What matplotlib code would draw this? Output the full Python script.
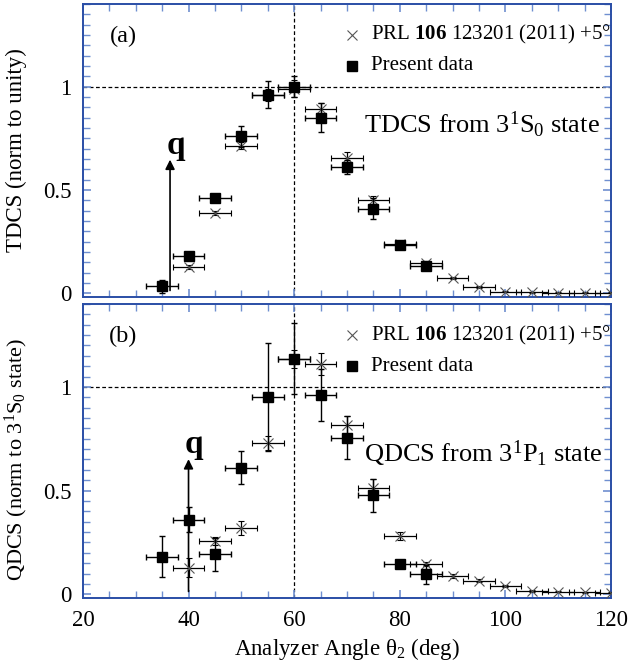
import matplotlib
matplotlib.use("Agg")
import matplotlib.pyplot as plt
from matplotlib.ticker import MultipleLocator, FixedLocator

plt.rcParams["font.family"] = ["Liberation Serif", "DejaVu Serif"]
plt.rcParams["mathtext.fontset"] = "custom"
plt.rcParams["mathtext.rm"] = "Liberation Serif"
plt.rcParams["mathtext.it"] = "Liberation Serif:italic"
plt.rcParams["mathtext.bf"] = "Liberation Serif:bold"

# Panel (a): TDCS from 3^1S_0, present data
tdcs_x = [35, 40, 45, 50, 55, 60, 65, 70, 75, 80, 85]
tdcs_y = [0.033, 0.18, 0.46, 0.76, 0.96, 1.00, 0.85, 0.61, 0.41, 0.234, 0.13]
tdcs_err = [0.03, 0.01, 0.02, 0.05, 0.065, 0.05, 0.07, 0.035, 0.05, 0.01, 0.01]

# Panel (a): PRL 106 123201 (2011), shifted +5 deg
prl_a_x = [40, 45, 50, 55, 60, 65, 70, 75, 80, 85, 90, 95, 100, 105, 110, 115, 120]
prl_a_y = [0.125, 0.39, 0.715, 0.96, 0.99, 0.89, 0.654, 0.45, 0.24, 0.146,
           0.076, 0.031, 0.008, 0.004, 0.003, 0.003, 0.003]
prl_a_err = [0.01, 0.01, 0.015, 0.03, 0.04, 0.03, 0.03, 0.02, 0.01, 0.01,
             0.005, 0.004, 0.003, 0.002, 0.002, 0.002, 0.002]

# Panel (b): QDCS from 3^1P_1, present data
qdcs_x = [35, 40, 45, 50, 55, 60, 65, 70, 75, 80, 85]
qdcs_y = [0.181, 0.36, 0.193, 0.61, 0.952, 1.136, 0.96, 0.756, 0.478, 0.146, 0.096]
qdcs_err = [0.10, 0.06, 0.08, 0.08, 0.26, 0.17, 0.125, 0.105, 0.08, 0.01, 0.045]

# Panel (b): PRL 106 123201 (2011), shifted +5 deg
prl_b_x = [40, 45, 50, 55, 60, 65, 70, 75, 80, 85, 90, 95, 100, 105, 110, 115, 120]
prl_b_y = [0.128, 0.257, 0.32, 0.73, 1.135, 1.112, 0.817, 0.514, 0.282, 0.146,
           0.088, 0.066, 0.042, 0.016, 0.013, 0.01, 0.008]
prl_b_err = [0.045, 0.02, 0.035, 0.035, 0.045, 0.053, 0.045, 0.04, 0.02, 0.01,
             0.008, 0.006, 0.005, 0.004, 0.003, 0.003, 0.003]

x_err = 3

spine_col = "#2a4ea6"
tick_col = "#6f8fd0"

fig = plt.figure(figsize=(6.28, 6.62), dpi=100)
ax_a = fig.add_axes([0.132, 0.5514, 0.841, 0.4426])
ax_b = fig.add_axes([0.132, 0.0967, 0.841, 0.4441])


def style_axes(ax):
    ax.set_xlim(20, 120)
    ax.set_ylim(-0.018, 1.40)
    ax.xaxis.set_major_locator(MultipleLocator(20))
    ax.xaxis.set_minor_locator(MultipleLocator(5))
    ax.yaxis.set_major_locator(FixedLocator([0, 0.5, 1]))
    ax.yaxis.set_minor_locator(MultipleLocator(0.05))
    ax.tick_params(which="both", direction="in", top=True, right=True,
                   color=tick_col, labelsize=16.5)
    ax.tick_params(axis="y", pad=8)
    ax.tick_params(axis="x", pad=9)
    ax.tick_params(which="major", length=6, width=1.2)
    ax.tick_params(which="minor", length=5, width=1.0)
    ax.set_yticklabels(["0", "0.5", "1"])
    for s in ax.spines.values():
        s.set_color(spine_col)
        s.set_linewidth(1.4)
    ax.axhline(1, color="black", ls=(0, (3, 2)), lw=0.9, zorder=1)
    ax.axvline(60, color="black", ls=(0, (3, 2)), lw=0.9, zorder=1)


def draw_panel(ax, px, py, perr, sx, sy, serr):
    ax.errorbar(px, py, yerr=perr, xerr=x_err, fmt="x", color="#555555",
                ecolor="black", elinewidth=0.9, capsize=2.5, capthick=0.9,
                markersize=7, markeredgewidth=0.8, zorder=3)
    ax.errorbar(sx, sy, yerr=serr, xerr=x_err, fmt="s", color="black",
                ecolor="black", elinewidth=1.0, capsize=2.5, capthick=1.0,
                markersize=7.3, zorder=4)


style_axes(ax_a)
draw_panel(ax_a, prl_a_x, prl_a_y, prl_a_err, tdcs_x, tdcs_y, tdcs_err)
ax_a.tick_params(labelbottom=False)
ax_a.set_ylabel("TDCS (norm to unity)", fontsize=16.5)
ax_a.yaxis.set_label_coords(-0.106, 0.5)
ax_a.text(27.6, 1.245, "(a)", fontsize=17.5, ha="center", va="center")
ax_a.annotate("", xy=(36.5, 0.66), xytext=(36.5, 0.0),
              arrowprops=dict(arrowstyle="-|>", color="black", lw=1.2,
                              mutation_scale=14))
ax_a.text(37.6, 0.715, "q", fontsize=24, fontweight="bold", ha="center", va="center")
ax_a.text(73.3, 0.815, r"TDCS from 3$^{\rm 1}$S$_{\rm 0}$ state", fontsize=19,
          ha="left", va="center")

style_axes(ax_b)
draw_panel(ax_b, prl_b_x, prl_b_y, prl_b_err, qdcs_x, qdcs_y, qdcs_err)
ax_b.set_ylabel(r"QDCS (norm to 3$^{\rm 1}$S$_{\rm 0}$ state)", fontsize=16)
ax_b.yaxis.set_label_coords(-0.1, 0.47)
ax_b.set_xlabel(r"Analyzer Angle θ$_{\rm 2}$ (deg)", fontsize=16.5, labelpad=3)
ax_b.text(27.6, 1.245, "(b)", fontsize=17.5, ha="center", va="center")
ax_b.annotate("", xy=(40, 0.665), xytext=(40, 0.0),
              arrowprops=dict(arrowstyle="-|>", color="black", lw=1.2,
                              mutation_scale=14))
ax_b.text(41.1, 0.72, "q", fontsize=24, fontweight="bold", ha="center", va="center")
ax_b.text(73.3, 0.68, r"QDCS from 3$^{\rm 1}$P$_{\rm 1}$ state", fontsize=19,
          ha="left", va="center")

# legends drawn as marker + text
for ax in (ax_a, ax_b):
    ax.plot([71.0], [1.25], "x", color="#555555", markersize=7, markeredgewidth=0.8)
    ax.plot([71.0], [1.10], "s", color="black", markersize=7)
    ax.text(74.6, 1.25, r"PRL $\mathbf{106}$ 123201 (2011) +5°", fontsize=15,
            ha="left", va="center")
    ax.text(74.6, 1.10, "Present data", fontsize=15, ha="left", va="center")

fig.savefig("out.png", dpi=100)
